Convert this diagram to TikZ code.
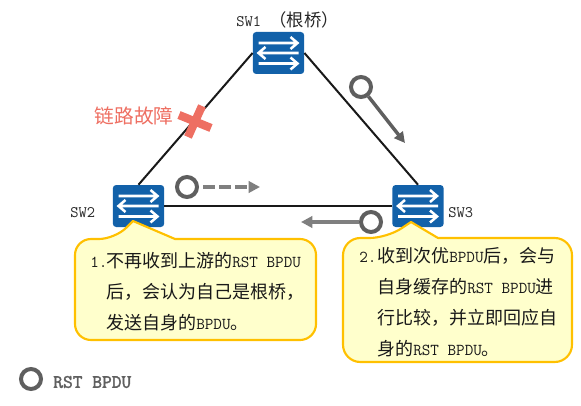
\documentclass[tikz,border=0pt]{standalone}
\usepackage{fontspec}
\setmainfont{Noto Sans CJK SC}
\setmonofont{Latin Modern Mono}[Scale=0.926]
\newfontfamily\legendfont{Latin Modern Mono}[FakeBold=2]
\usetikzlibrary{arrows.meta}
\definecolor{swblue}{HTML}{1261A9}
\definecolor{bubblefill}{HTML}{FFFFCC}
\definecolor{bubbleline}{HTML}{FFC000}
\definecolor{faultred}{HTML}{EE6F62}
\definecolor{msgdark}{HTML}{5F5F5F}
\definecolor{msggrey}{HTML}{7F7F7F}
\newcommand{\la}[1]{{\ttfamily #1}}
\newcommand{\swarrows}[1]{%
  \begin{scope}[shift={(#1.center)},line width=1.9pt,draw=white,line join=miter]
    \draw (-20,-10) -- (19,-10) (12,-16) -- (19,-10) -- (12,-4);
    \draw (20,0) -- (-20,0) (-13,-6) -- (-20,0) -- (-13,6);
    \draw (-20,10.5) -- (19,10.5) (12,4.5) -- (19,10.5) -- (12,16.5);
  \end{scope}}
\tikzset{
  x=0.75pt,y=-0.75pt,
  switchbox/.style={rectangle,fill=swblue,rounded corners=2.5pt,minimum width=38.5pt,minimum height=31.5pt,inner sep=0pt},
  link/.style={draw=black!90,line width=1.5pt},
  msgcircle/.style={circle,draw=msgdark,line width=3pt,fill=white,minimum size=15pt,inner sep=0pt},
  bubble/.style={draw=bubbleline,fill=bubblefill,line width=1.6pt,line join=round},
  bubbletext/.style={anchor=north west,inner sep=0pt,align=left,text=black!90,font=\fontsize{13.5}{23.25}\selectfont},
  swlabel/.style={inner sep=0pt,text=black!85,font=\fontsize{13}{15}\selectfont\ttfamily},
  faultx/.style={draw=faultred,line width=6.2pt},
}
\begin{document}
\begin{tikzpicture}
\useasboundingbox (0,0) rectangle (581,406);
% switches
\node[switchbox] (sw1) at (278.5,53) {};
\node[switchbox] (sw2) at (138.5,206) {};
\node[switchbox] (sw3) at (418,206) {};
% links
\draw[link] (sw1.west) -- (sw2.north);
\draw[link] (sw1.east) -- (sw3.north);
\draw[link] (sw2.east) -- (sw3.west);
\swarrows{sw1}\swarrows{sw2}\swarrows{sw3}
% labels
\node[swlabel,anchor=west] (l1) at (236,20) {SW1 {\rmfamily（根桥）}};
\node[swlabel,anchor=west] (l2) at (70,213) {SW2};
\node[swlabel,anchor=west] (l3) at (448,213) {SW3};
% fault
\draw[faultx] (202,106) -- (188,137);
\draw[faultx] (179,115) -- (211,128);
\node[inner sep=0pt,text=faultred,font=\fontsize{14.8}{16}\selectfont] (fault) at (134,116) {链路故障};
% messages
\node[msgcircle] (m1) at (361,87) {};
\coordinate (m1t) at (405,143);
\draw[draw=msgdark,line width=2.6pt,-{Triangle[length=8pt,width=8pt]}] (m1) -- (m1t);
\node[msgcircle] (m2) at (187,187) {};
\coordinate (m2t) at (260,187);
\draw[draw=msggrey,line width=3pt,dash pattern=on 9pt off 3pt,shorten <=3pt,-{Triangle[length=8.5pt,width=8.5pt]}] (m2) -- (m2t);
\coordinate (m3t) at (301,222);
\node[msgcircle] (m3) at (371,222) {};
\draw[draw=msggrey,line width=3pt,-{Triangle[length=8.5pt,width=8.5pt]}] (m3) -- (m3t);
% callouts
\draw[bubble] (175,239) [rounded corners=12pt] -- (316,239) -- (316,340) -- (75,340) -- (75,239) -- (115,239) [sharp corners] -- (133,221) -- cycle;
\draw[bubble] (438,238) [rounded corners=13pt] -- (572,238) -- (572,362) -- (343,362) -- (343,238) -- (387,238) [sharp corners] -- (411,222) -- cycle;
\node[bubbletext] (t1) at (90,252) {\makebox[12pt][l]{\la{1.}}不再收到上游的\la{RST BPDU}\\\hspace*{12pt}后，会认为自己是根桥，\\\hspace*{12pt}发送自身的\la{BPDU}。};
\node[bubbletext] (t2) at (359,247) {\makebox[13.5pt][l]{\la{2.}}收到次优\la{BPDU}后，会与\\\hspace*{13.5pt}自身缓存的\la{RST BPDU}进\\\hspace*{13.5pt}行比较，并立即回应自\\\hspace*{13.5pt}身的\la{RST BPDU}。};
% legend
\node[msgcircle] (legend) at (31,379) {};
\node[anchor=west,inner sep=0pt,text=msgdark,font=\fontsize{14.2}{17}\selectfont\legendfont] (legendtext) at (53,382) {RST BPDU};
\end{tikzpicture}
\end{document}
